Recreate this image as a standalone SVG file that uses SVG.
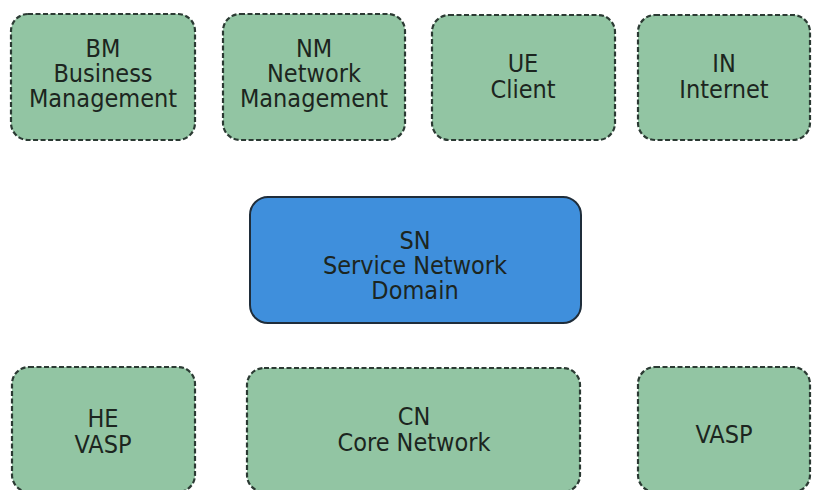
<svg xmlns="http://www.w3.org/2000/svg" width="815" height="490" viewBox="0 0 815 490">
<style>
.g{fill:#92c5a3;stroke:#2b3a33;stroke-width:2.2;stroke-dasharray:5 2.5}
.b{fill:#3f8fdc;stroke:#1f2d3a;stroke-width:2}
text{font-family:"DejaVu Sans Condensed","DejaVu Sans",Verdana,sans-serif;font-stretch:condensed;font-size:25px;fill:#1c2520;text-anchor:middle}
</style>
<rect width="815" height="490" fill="#ffffff"/>
<g id="BM"><rect class="g" x="11" y="14" width="184" height="126" rx="17"/>
<text x="103" y="57">BM</text><text x="103" y="82">Business</text><text x="103" y="107">Management</text></g>
<g id="NM"><rect class="g" x="223" y="14" width="182" height="126" rx="17"/>
<text x="314" y="57">NM</text><text x="314" y="82">Network</text><text x="314" y="107">Management</text></g>
<g id="UE"><rect class="g" x="432" y="15" width="183" height="125" rx="17"/>
<text x="523" y="72">UE</text><text x="523" y="98">Client</text></g>
<g id="IN"><rect class="g" x="638" y="15" width="172" height="125" rx="17"/>
<text x="724" y="72">IN</text><text x="724" y="98">Internet</text></g>
<g id="SN"><rect class="b" x="250" y="197" width="331" height="126" rx="18"/>
<text x="415" y="249">SN</text><text x="415" y="274">Service Network</text><text x="415" y="299">Domain</text></g>
<g id="HE"><rect class="g" x="12" y="367" width="183" height="125" rx="17"/>
<text x="103" y="427">HE</text><text x="103" y="453">VASP</text></g>
<g id="CN"><rect class="g" x="247" y="368" width="333" height="124" rx="17"/>
<text x="414" y="425">CN</text><text x="414" y="451">Core Network</text></g>
<g id="VASP"><rect class="g" x="638" y="367" width="172" height="125" rx="17"/>
<text x="724" y="443">VASP</text></g>
<g id="connectors"></g>
</svg>
